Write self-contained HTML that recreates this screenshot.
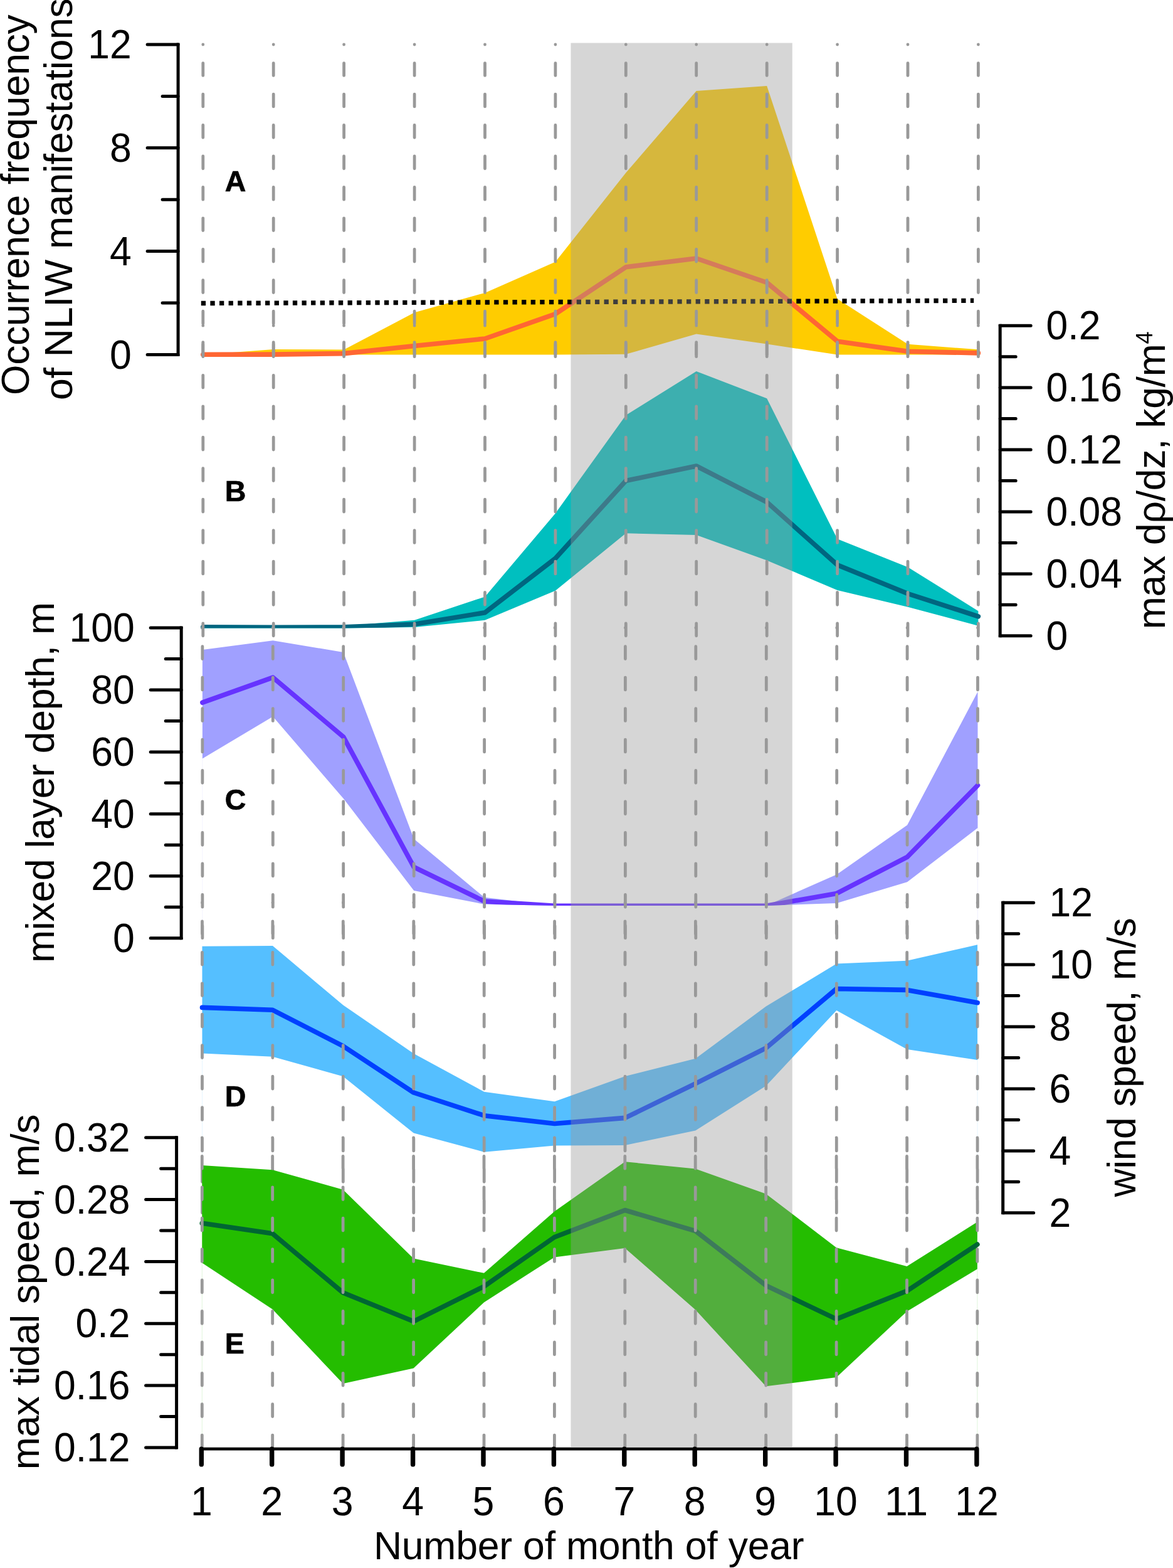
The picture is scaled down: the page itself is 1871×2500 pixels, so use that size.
<!DOCTYPE html>
<html lang="en"><head><meta charset="utf-8"><title>Seasonal variability</title>
<style>html,body{margin:0;padding:0;background:#fff}body{width:1871px;height:2500px;overflow:hidden}svg{display:block}text{font-family:'Liberation Sans', Arial, Helvetica, sans-serif;fill:#000}</style>
</head><body>
<svg width="1871" height="2500" viewBox="0 0 1871 2500">
<rect width="1871" height="2500" fill="#fff"/>
<defs>
<clipPath id="clipA"><path clip-rule="evenodd" d="M0,0H1871V2500H0Z M323.8,565.4 L436.2,565.4 L548.6,565.4 L661.1,565.4 L773.5,565.4 L885.9,565.4 L998.3,564.8 L1110.7,532.6 L1223.2,548.6 L1335.6,565.4 L1448.0,565.4 L1560.4,565.4 L1560.4,565.4 L323.8,565.4Z"/></clipPath>
<clipPath id="clipB"><path clip-rule="evenodd" d="M0,0H1871V2500H0Z M323.8,1001.5 L436.2,1001.5 L548.6,1001.5 L661.1,1000.0 L773.5,988.8 L885.9,941.7 L998.3,850.2 L1110.7,853.0 L1223.2,893.5 L1335.6,941.0 L1448.0,967.8 L1560.4,997.8 L1560.4,1013.8 L323.8,1013.8Z"/></clipPath>
<clipPath id="clipC"><path clip-rule="evenodd" d="M0,0H1871V2500H0Z M322.9,1209.6 L435.3,1142.6 L547.7,1273.1 L660.2,1420.0 L772.6,1441.7 L885.0,1444.0 L997.4,1444.0 L1109.8,1444.0 L1222.3,1444.0 L1334.7,1440.1 L1447.1,1406.3 L1559.5,1320.0 L1559.5,1495.7 L322.9,1495.7Z"/></clipPath>
<clipPath id="clipD"><path clip-rule="evenodd" d="M0,0H1871V2500H0Z M322.5,1679.5 L434.9,1684.8 L547.3,1716.2 L659.8,1806.6 L772.2,1836.7 L884.6,1826.6 L997.0,1825.9 L1109.4,1802.5 L1221.9,1731.2 L1334.3,1611.0 L1446.7,1673.1 L1559.1,1690.0 L1559.1,1933.8 L322.5,1933.8Z"/></clipPath>
<clipPath id="clipE"><path clip-rule="evenodd" d="M0,0H1871V2500H0Z M322.3,2013.5 L434.7,2087.6 L547.1,2205.9 L659.6,2181.6 L772.0,2076.4 L884.4,2004.4 L996.8,1989.9 L1109.2,2088.3 L1221.7,2210.3 L1334.1,2196.0 L1446.5,2090.9 L1558.9,2023.3 L1558.9,2307.9 L322.3,2307.9Z"/></clipPath>
</defs>
<g id="panelA">
<polygon fill="#ffcc00" points="323.8,565.4 436.2,557.0 548.6,557.5 661.1,498.3 773.5,466.9 885.9,417.5 998.3,275.6 1110.7,145.1 1223.2,136.9 1335.6,476.6 1448.0,548.8 1560.4,557.2 1560.4,565.4 1448.0,565.4 1335.6,565.4 1223.2,548.6 1110.7,532.6 998.3,564.8 885.9,565.4 773.5,565.4 661.1,565.4 548.6,565.4 436.2,565.4 323.8,565.4"/>
<g clip-path="url(#clipA)"><polyline fill="none" stroke="#ff6633" stroke-width="7.6" stroke-linecap="round" stroke-linejoin="round" points="323.8,565.3 436.2,565.1 548.6,563.6 661.1,551.5 773.5,540.0 885.9,500.5 998.3,425.8 1110.7,412.0 1223.2,450.5 1335.6,544.2 1448.0,560.3 1560.4,562.9"/></g>
<path stroke="#999999" stroke-width="4.8" stroke-linecap="round" fill="none" d="M323.8,71.0v0.01M323.8,545.6V565.4M323.8,496.2V516.0M323.8,446.7V466.5M323.8,397.3V417.1M323.8,347.8V367.6M323.8,298.4V318.2M323.8,249.0V268.8M323.8,199.5V219.3M323.8,150.1V169.9M323.8,100.6V120.4M436.2,71.0v0.01M436.2,545.6V565.4M436.2,496.2V516.0M436.2,446.7V466.5M436.2,397.3V417.1M436.2,347.8V367.6M436.2,298.4V318.2M436.2,249.0V268.8M436.2,199.5V219.3M436.2,150.1V169.9M436.2,100.6V120.4M548.6,71.0v0.01M548.6,545.6V565.4M548.6,496.2V516.0M548.6,446.7V466.5M548.6,397.3V417.1M548.6,347.8V367.6M548.6,298.4V318.2M548.6,249.0V268.8M548.6,199.5V219.3M548.6,150.1V169.9M548.6,100.6V120.4M661.1,71.0v0.01M661.1,545.6V565.4M661.1,496.2V516.0M661.1,446.7V466.5M661.1,397.3V417.1M661.1,347.8V367.6M661.1,298.4V318.2M661.1,249.0V268.8M661.1,199.5V219.3M661.1,150.1V169.9M661.1,100.6V120.4M773.5,71.0v0.01M773.5,545.6V565.4M773.5,496.2V516.0M773.5,446.7V466.5M773.5,397.3V417.1M773.5,347.8V367.6M773.5,298.4V318.2M773.5,249.0V268.8M773.5,199.5V219.3M773.5,150.1V169.9M773.5,100.6V120.4M885.9,71.0v0.01M885.9,545.6V565.4M885.9,496.2V516.0M885.9,446.7V466.5M885.9,397.3V417.1M885.9,347.8V367.6M885.9,298.4V318.2M885.9,249.0V268.8M885.9,199.5V219.3M885.9,150.1V169.9M885.9,100.6V120.4M998.3,71.0v0.01M998.3,545.6V565.4M998.3,496.2V516.0M998.3,446.7V466.5M998.3,397.3V417.1M998.3,347.8V367.6M998.3,298.4V318.2M998.3,249.0V268.8M998.3,199.5V219.3M998.3,150.1V169.9M998.3,100.6V120.4M1110.7,71.0v0.01M1110.7,545.6V565.4M1110.7,496.2V516.0M1110.7,446.7V466.5M1110.7,397.3V417.1M1110.7,347.8V367.6M1110.7,298.4V318.2M1110.7,249.0V268.8M1110.7,199.5V219.3M1110.7,150.1V169.9M1110.7,100.6V120.4M1223.2,71.0v0.01M1223.2,545.6V565.4M1223.2,496.2V516.0M1223.2,446.7V466.5M1223.2,397.3V417.1M1223.2,347.8V367.6M1223.2,298.4V318.2M1223.2,249.0V268.8M1223.2,199.5V219.3M1223.2,150.1V169.9M1223.2,100.6V120.4M1335.6,71.0v0.01M1335.6,545.6V565.4M1335.6,496.2V516.0M1335.6,446.7V466.5M1335.6,397.3V417.1M1335.6,347.8V367.6M1335.6,298.4V318.2M1335.6,249.0V268.8M1335.6,199.5V219.3M1335.6,150.1V169.9M1335.6,100.6V120.4M1448.0,71.0v0.01M1448.0,545.6V565.4M1448.0,496.2V516.0M1448.0,446.7V466.5M1448.0,397.3V417.1M1448.0,347.8V367.6M1448.0,298.4V318.2M1448.0,249.0V268.8M1448.0,199.5V219.3M1448.0,150.1V169.9M1448.0,100.6V120.4M1560.4,71.0v0.01M1560.4,545.6V565.4M1560.4,496.2V516.0M1560.4,446.7V466.5M1560.4,397.3V417.1M1560.4,347.8V367.6M1560.4,298.4V318.2M1560.4,249.0V268.8M1560.4,199.5V219.3M1560.4,150.1V169.9M1560.4,100.6V120.4"/>
</g>
<g id="panelB">
<polygon fill="#00bfbf" points="323.8,998.0 436.2,998.0 548.6,998.0 661.1,988.8 773.5,951.4 885.9,818.4 998.3,662.0 1110.7,592.0 1223.2,635.3 1335.6,859.3 1448.0,904.2 1560.4,974.3 1560.4,997.8 1448.0,967.8 1335.6,941.0 1223.2,893.5 1110.7,853.0 998.3,850.2 885.9,941.7 773.5,988.8 661.1,1000.0 548.6,1001.5 436.2,1001.5 323.8,1001.5"/>
<path d="M323.8,1001.5V1013.8M1560.4,997.8V1013.8" stroke="#00bfbf" stroke-width="1" stroke-opacity="0.14" fill="none"/>
<g clip-path="url(#clipB)"><polyline fill="none" stroke="#006680" stroke-width="7.6" stroke-linecap="round" stroke-linejoin="round" points="323.8,999.9 436.2,1000.2 548.6,999.9 661.1,995.2 773.5,976.7 885.9,890.2 998.3,766.5 1110.7,743.0 1223.2,800.5 1335.6,900.7 1448.0,946.5 1560.4,982.8"/></g>
<path stroke="#999999" stroke-width="4.8" stroke-linecap="round" fill="none" d="M323.8,519.2v0.01M323.8,994.0V1013.8M323.8,944.5V964.3M323.8,895.1V914.9M323.8,845.6V865.4M323.8,796.2V816.0M323.8,746.7V766.5M323.8,697.2V717.0M323.8,647.8V667.6M323.8,598.3V618.1M323.8,548.9V568.7M436.2,519.2v0.01M436.2,994.0V1013.8M436.2,944.5V964.3M436.2,895.1V914.9M436.2,845.6V865.4M436.2,796.2V816.0M436.2,746.7V766.5M436.2,697.2V717.0M436.2,647.8V667.6M436.2,598.3V618.1M436.2,548.9V568.7M548.6,519.2v0.01M548.6,994.0V1013.8M548.6,944.5V964.3M548.6,895.1V914.9M548.6,845.6V865.4M548.6,796.2V816.0M548.6,746.7V766.5M548.6,697.2V717.0M548.6,647.8V667.6M548.6,598.3V618.1M548.6,548.9V568.7M661.1,519.2v0.01M661.1,994.0V1013.8M661.1,944.5V964.3M661.1,895.1V914.9M661.1,845.6V865.4M661.1,796.2V816.0M661.1,746.7V766.5M661.1,697.2V717.0M661.1,647.8V667.6M661.1,598.3V618.1M661.1,548.9V568.7M773.5,519.2v0.01M773.5,994.0V1013.8M773.5,944.5V964.3M773.5,895.1V914.9M773.5,845.6V865.4M773.5,796.2V816.0M773.5,746.7V766.5M773.5,697.2V717.0M773.5,647.8V667.6M773.5,598.3V618.1M773.5,548.9V568.7M885.9,519.2v0.01M885.9,994.0V1013.8M885.9,944.5V964.3M885.9,895.1V914.9M885.9,845.6V865.4M885.9,796.2V816.0M885.9,746.7V766.5M885.9,697.2V717.0M885.9,647.8V667.6M885.9,598.3V618.1M885.9,548.9V568.7M998.3,519.2v0.01M998.3,994.0V1013.8M998.3,944.5V964.3M998.3,895.1V914.9M998.3,845.6V865.4M998.3,796.2V816.0M998.3,746.7V766.5M998.3,697.2V717.0M998.3,647.8V667.6M998.3,598.3V618.1M998.3,548.9V568.7M1110.7,519.2v0.01M1110.7,994.0V1013.8M1110.7,944.5V964.3M1110.7,895.1V914.9M1110.7,845.6V865.4M1110.7,796.2V816.0M1110.7,746.7V766.5M1110.7,697.2V717.0M1110.7,647.8V667.6M1110.7,598.3V618.1M1110.7,548.9V568.7M1223.2,519.2v0.01M1223.2,994.0V1013.8M1223.2,944.5V964.3M1223.2,895.1V914.9M1223.2,845.6V865.4M1223.2,796.2V816.0M1223.2,746.7V766.5M1223.2,697.2V717.0M1223.2,647.8V667.6M1223.2,598.3V618.1M1223.2,548.9V568.7M1335.6,519.2v0.01M1335.6,994.0V1013.8M1335.6,944.5V964.3M1335.6,895.1V914.9M1335.6,845.6V865.4M1335.6,796.2V816.0M1335.6,746.7V766.5M1335.6,697.2V717.0M1335.6,647.8V667.6M1335.6,598.3V618.1M1335.6,548.9V568.7M1448.0,519.2v0.01M1448.0,994.0V1013.8M1448.0,944.5V964.3M1448.0,895.1V914.9M1448.0,845.6V865.4M1448.0,796.2V816.0M1448.0,746.7V766.5M1448.0,697.2V717.0M1448.0,647.8V667.6M1448.0,598.3V618.1M1448.0,548.9V568.7M1560.4,519.2v0.01M1560.4,994.0V1013.8M1560.4,944.5V964.3M1560.4,895.1V914.9M1560.4,845.6V865.4M1560.4,796.2V816.0M1560.4,746.7V766.5M1560.4,697.2V717.0M1560.4,647.8V667.6M1560.4,598.3V618.1M1560.4,548.9V568.7"/>
</g>
<g id="panelC">
<polygon fill="#a0a0ff" points="322.9,1036.0 435.3,1021.3 547.7,1039.9 660.2,1337.5 772.6,1430.8 885.0,1444.0 997.4,1444.0 1109.8,1444.0 1222.3,1444.0 1334.7,1394.2 1447.1,1315.6 1559.5,1103.0 1559.5,1320.0 1447.1,1406.3 1334.7,1440.1 1222.3,1444.0 1109.8,1444.0 997.4,1444.0 885.0,1444.0 772.6,1441.7 660.2,1420.0 547.7,1273.1 435.3,1142.6 322.9,1209.6"/>
<path d="M322.9,1209.6V1495.7M1559.5,1320.0V1495.7" stroke="#a0a0ff" stroke-width="1" stroke-opacity="0.14" fill="none"/>
<g clip-path="url(#clipC)"><polyline fill="none" stroke="#6633ff" stroke-width="7.6" stroke-linecap="round" stroke-linejoin="round" points="322.9,1120.2 435.3,1080.2 547.7,1174.8 660.2,1382.5 772.6,1437.0 885.0,1444.2 997.4,1444.2 1109.8,1444.2 1222.3,1444.2 1334.7,1424.4 1447.1,1366.4 1559.5,1252.1"/></g>
<path stroke="#999999" stroke-width="4.8" stroke-linecap="round" fill="none" d="M322.9,1001.0v0.01M322.9,1475.9V1495.7M322.9,1426.4V1446.2M322.9,1377.0V1396.8M322.9,1327.5V1347.3M322.9,1278.0V1297.8M322.9,1228.5V1248.3M322.9,1179.1V1198.9M322.9,1129.6V1149.4M322.9,1080.1V1099.9M322.9,1030.7V1050.5M435.3,1001.0v0.01M435.3,1475.9V1495.7M435.3,1426.4V1446.2M435.3,1377.0V1396.8M435.3,1327.5V1347.3M435.3,1278.0V1297.8M435.3,1228.5V1248.3M435.3,1179.1V1198.9M435.3,1129.6V1149.4M435.3,1080.1V1099.9M435.3,1030.7V1050.5M547.7,1001.0v0.01M547.7,1475.9V1495.7M547.7,1426.4V1446.2M547.7,1377.0V1396.8M547.7,1327.5V1347.3M547.7,1278.0V1297.8M547.7,1228.5V1248.3M547.7,1179.1V1198.9M547.7,1129.6V1149.4M547.7,1080.1V1099.9M547.7,1030.7V1050.5M660.2,1001.0v0.01M660.2,1475.9V1495.7M660.2,1426.4V1446.2M660.2,1377.0V1396.8M660.2,1327.5V1347.3M660.2,1278.0V1297.8M660.2,1228.5V1248.3M660.2,1179.1V1198.9M660.2,1129.6V1149.4M660.2,1080.1V1099.9M660.2,1030.7V1050.5M772.6,1001.0v0.01M772.6,1475.9V1495.7M772.6,1426.4V1446.2M772.6,1377.0V1396.8M772.6,1327.5V1347.3M772.6,1278.0V1297.8M772.6,1228.5V1248.3M772.6,1179.1V1198.9M772.6,1129.6V1149.4M772.6,1080.1V1099.9M772.6,1030.7V1050.5M885.0,1001.0v0.01M885.0,1475.9V1495.7M885.0,1426.4V1446.2M885.0,1377.0V1396.8M885.0,1327.5V1347.3M885.0,1278.0V1297.8M885.0,1228.5V1248.3M885.0,1179.1V1198.9M885.0,1129.6V1149.4M885.0,1080.1V1099.9M885.0,1030.7V1050.5M997.4,1001.0v0.01M997.4,1475.9V1495.7M997.4,1426.4V1446.2M997.4,1377.0V1396.8M997.4,1327.5V1347.3M997.4,1278.0V1297.8M997.4,1228.5V1248.3M997.4,1179.1V1198.9M997.4,1129.6V1149.4M997.4,1080.1V1099.9M997.4,1030.7V1050.5M1109.8,1001.0v0.01M1109.8,1475.9V1495.7M1109.8,1426.4V1446.2M1109.8,1377.0V1396.8M1109.8,1327.5V1347.3M1109.8,1278.0V1297.8M1109.8,1228.5V1248.3M1109.8,1179.1V1198.9M1109.8,1129.6V1149.4M1109.8,1080.1V1099.9M1109.8,1030.7V1050.5M1222.3,1001.0v0.01M1222.3,1475.9V1495.7M1222.3,1426.4V1446.2M1222.3,1377.0V1396.8M1222.3,1327.5V1347.3M1222.3,1278.0V1297.8M1222.3,1228.5V1248.3M1222.3,1179.1V1198.9M1222.3,1129.6V1149.4M1222.3,1080.1V1099.9M1222.3,1030.7V1050.5M1334.7,1001.0v0.01M1334.7,1475.9V1495.7M1334.7,1426.4V1446.2M1334.7,1377.0V1396.8M1334.7,1327.5V1347.3M1334.7,1278.0V1297.8M1334.7,1228.5V1248.3M1334.7,1179.1V1198.9M1334.7,1129.6V1149.4M1334.7,1080.1V1099.9M1334.7,1030.7V1050.5M1447.1,1001.0v0.01M1447.1,1475.9V1495.7M1447.1,1426.4V1446.2M1447.1,1377.0V1396.8M1447.1,1327.5V1347.3M1447.1,1278.0V1297.8M1447.1,1228.5V1248.3M1447.1,1179.1V1198.9M1447.1,1129.6V1149.4M1447.1,1080.1V1099.9M1447.1,1030.7V1050.5M1559.5,1001.0v0.01M1559.5,1475.9V1495.7M1559.5,1426.4V1446.2M1559.5,1377.0V1396.8M1559.5,1327.5V1347.3M1559.5,1278.0V1297.8M1559.5,1228.5V1248.3M1559.5,1179.1V1198.9M1559.5,1129.6V1149.4M1559.5,1080.1V1099.9M1559.5,1030.7V1050.5"/>
</g>
<g id="panelD">
<polygon fill="#55bfff" points="322.5,1508.7 434.9,1507.9 547.3,1602.6 659.8,1679.7 772.2,1740.8 884.6,1756.3 997.0,1715.9 1109.4,1687.7 1221.9,1604.4 1334.3,1536.6 1446.7,1531.7 1559.1,1506.3 1559.1,1690.0 1446.7,1673.1 1334.3,1611.0 1221.9,1731.2 1109.4,1802.5 997.0,1825.9 884.6,1826.6 772.2,1836.7 659.8,1806.6 547.3,1716.2 434.9,1684.8 322.5,1679.5"/>
<path d="M322.5,1679.5V1933.8M1559.1,1690.0V1933.8" stroke="#55bfff" stroke-width="1" stroke-opacity="0.14" fill="none"/>
<g clip-path="url(#clipD)"><polyline fill="none" stroke="#0040ff" stroke-width="7.6" stroke-linecap="round" stroke-linejoin="round" points="322.5,1606.4 434.9,1610.3 547.3,1667.9 659.8,1742.0 772.2,1778.7 884.6,1791.5 997.0,1782.4 1109.4,1727.6 1221.9,1670.8 1334.3,1576.5 1446.7,1578.4 1559.1,1598.7"/></g>
<path stroke="#999999" stroke-width="4.8" stroke-linecap="round" fill="none" d="M322.5,1439.2v0.01M322.5,1914.0V1933.8M322.5,1864.5V1884.3M322.5,1815.1V1834.9M322.5,1765.6V1785.4M322.5,1716.2V1736.0M322.5,1666.7V1686.5M322.5,1617.2V1637.0M322.5,1567.8V1587.6M322.5,1518.3V1538.1M322.5,1468.9V1488.7M434.9,1439.2v0.01M434.9,1914.0V1933.8M434.9,1864.5V1884.3M434.9,1815.1V1834.9M434.9,1765.6V1785.4M434.9,1716.2V1736.0M434.9,1666.7V1686.5M434.9,1617.2V1637.0M434.9,1567.8V1587.6M434.9,1518.3V1538.1M434.9,1468.9V1488.7M547.3,1439.2v0.01M547.3,1914.0V1933.8M547.3,1864.5V1884.3M547.3,1815.1V1834.9M547.3,1765.6V1785.4M547.3,1716.2V1736.0M547.3,1666.7V1686.5M547.3,1617.2V1637.0M547.3,1567.8V1587.6M547.3,1518.3V1538.1M547.3,1468.9V1488.7M659.8,1439.2v0.01M659.8,1914.0V1933.8M659.8,1864.5V1884.3M659.8,1815.1V1834.9M659.8,1765.6V1785.4M659.8,1716.2V1736.0M659.8,1666.7V1686.5M659.8,1617.2V1637.0M659.8,1567.8V1587.6M659.8,1518.3V1538.1M659.8,1468.9V1488.7M772.2,1439.2v0.01M772.2,1914.0V1933.8M772.2,1864.5V1884.3M772.2,1815.1V1834.9M772.2,1765.6V1785.4M772.2,1716.2V1736.0M772.2,1666.7V1686.5M772.2,1617.2V1637.0M772.2,1567.8V1587.6M772.2,1518.3V1538.1M772.2,1468.9V1488.7M884.6,1439.2v0.01M884.6,1914.0V1933.8M884.6,1864.5V1884.3M884.6,1815.1V1834.9M884.6,1765.6V1785.4M884.6,1716.2V1736.0M884.6,1666.7V1686.5M884.6,1617.2V1637.0M884.6,1567.8V1587.6M884.6,1518.3V1538.1M884.6,1468.9V1488.7M997.0,1439.2v0.01M997.0,1914.0V1933.8M997.0,1864.5V1884.3M997.0,1815.1V1834.9M997.0,1765.6V1785.4M997.0,1716.2V1736.0M997.0,1666.7V1686.5M997.0,1617.2V1637.0M997.0,1567.8V1587.6M997.0,1518.3V1538.1M997.0,1468.9V1488.7M1109.4,1439.2v0.01M1109.4,1914.0V1933.8M1109.4,1864.5V1884.3M1109.4,1815.1V1834.9M1109.4,1765.6V1785.4M1109.4,1716.2V1736.0M1109.4,1666.7V1686.5M1109.4,1617.2V1637.0M1109.4,1567.8V1587.6M1109.4,1518.3V1538.1M1109.4,1468.9V1488.7M1221.9,1439.2v0.01M1221.9,1914.0V1933.8M1221.9,1864.5V1884.3M1221.9,1815.1V1834.9M1221.9,1765.6V1785.4M1221.9,1716.2V1736.0M1221.9,1666.7V1686.5M1221.9,1617.2V1637.0M1221.9,1567.8V1587.6M1221.9,1518.3V1538.1M1221.9,1468.9V1488.7M1334.3,1439.2v0.01M1334.3,1914.0V1933.8M1334.3,1864.5V1884.3M1334.3,1815.1V1834.9M1334.3,1765.6V1785.4M1334.3,1716.2V1736.0M1334.3,1666.7V1686.5M1334.3,1617.2V1637.0M1334.3,1567.8V1587.6M1334.3,1518.3V1538.1M1334.3,1468.9V1488.7M1446.7,1439.2v0.01M1446.7,1914.0V1933.8M1446.7,1864.5V1884.3M1446.7,1815.1V1834.9M1446.7,1765.6V1785.4M1446.7,1716.2V1736.0M1446.7,1666.7V1686.5M1446.7,1617.2V1637.0M1446.7,1567.8V1587.6M1446.7,1518.3V1538.1M1446.7,1468.9V1488.7M1559.1,1439.2v0.01M1559.1,1914.0V1933.8M1559.1,1864.5V1884.3M1559.1,1815.1V1834.9M1559.1,1765.6V1785.4M1559.1,1716.2V1736.0M1559.1,1666.7V1686.5M1559.1,1617.2V1637.0M1559.1,1567.8V1587.6M1559.1,1518.3V1538.1M1559.1,1468.9V1488.7"/>
</g>
<g id="panelE">
<polygon fill="#24bd00" points="322.3,1858.0 434.7,1865.3 547.1,1896.7 659.6,2006.4 772.0,2029.8 884.4,1931.4 996.8,1852.2 1109.2,1863.5 1221.7,1903.4 1334.1,1989.3 1446.5,2018.9 1558.9,1948.3 1558.9,2023.3 1446.5,2090.9 1334.1,2196.0 1221.7,2210.3 1109.2,2088.3 996.8,1989.9 884.4,2004.4 772.0,2076.4 659.6,2181.6 547.1,2205.9 434.7,2087.6 322.3,2013.5"/>
<path d="M322.3,2013.5V2307.9M1558.9,2023.3V2307.9" stroke="#24bd00" stroke-width="1" stroke-opacity="0.14" fill="none"/>
<g clip-path="url(#clipE)"><polyline fill="none" stroke="#006633" stroke-width="7.6" stroke-linecap="round" stroke-linejoin="round" points="322.3,1950.3 434.7,1966.8 547.1,2061.0 659.6,2106.8 772.0,2051.1 884.4,1972.5 996.8,1929.5 1109.2,1962.6 1221.7,2049.6 1334.1,2103.1 1446.5,2058.3 1558.9,1984.1"/></g>
<path stroke="#999999" stroke-width="4.8" stroke-linecap="round" fill="none" d="M322.3,1813.8v0.01M322.3,2288.1V2307.9M322.3,2238.7V2258.5M322.3,2189.3V2209.1M322.3,2139.9V2159.7M322.3,2090.5V2110.3M322.3,2041.0V2060.8M322.3,1991.6V2011.4M322.3,1942.2V1962.0M322.3,1892.8V1912.6M322.3,1843.4V1863.2M434.7,1813.8v0.01M434.7,2288.1V2307.9M434.7,2238.7V2258.5M434.7,2189.3V2209.1M434.7,2139.9V2159.7M434.7,2090.5V2110.3M434.7,2041.0V2060.8M434.7,1991.6V2011.4M434.7,1942.2V1962.0M434.7,1892.8V1912.6M434.7,1843.4V1863.2M547.1,1813.8v0.01M547.1,2288.1V2307.9M547.1,2238.7V2258.5M547.1,2189.3V2209.1M547.1,2139.9V2159.7M547.1,2090.5V2110.3M547.1,2041.0V2060.8M547.1,1991.6V2011.4M547.1,1942.2V1962.0M547.1,1892.8V1912.6M547.1,1843.4V1863.2M659.6,1813.8v0.01M659.6,2288.1V2307.9M659.6,2238.7V2258.5M659.6,2189.3V2209.1M659.6,2139.9V2159.7M659.6,2090.5V2110.3M659.6,2041.0V2060.8M659.6,1991.6V2011.4M659.6,1942.2V1962.0M659.6,1892.8V1912.6M659.6,1843.4V1863.2M772.0,1813.8v0.01M772.0,2288.1V2307.9M772.0,2238.7V2258.5M772.0,2189.3V2209.1M772.0,2139.9V2159.7M772.0,2090.5V2110.3M772.0,2041.0V2060.8M772.0,1991.6V2011.4M772.0,1942.2V1962.0M772.0,1892.8V1912.6M772.0,1843.4V1863.2M884.4,1813.8v0.01M884.4,2288.1V2307.9M884.4,2238.7V2258.5M884.4,2189.3V2209.1M884.4,2139.9V2159.7M884.4,2090.5V2110.3M884.4,2041.0V2060.8M884.4,1991.6V2011.4M884.4,1942.2V1962.0M884.4,1892.8V1912.6M884.4,1843.4V1863.2M996.8,1813.8v0.01M996.8,2288.1V2307.9M996.8,2238.7V2258.5M996.8,2189.3V2209.1M996.8,2139.9V2159.7M996.8,2090.5V2110.3M996.8,2041.0V2060.8M996.8,1991.6V2011.4M996.8,1942.2V1962.0M996.8,1892.8V1912.6M996.8,1843.4V1863.2M1109.2,1813.8v0.01M1109.2,2288.1V2307.9M1109.2,2238.7V2258.5M1109.2,2189.3V2209.1M1109.2,2139.9V2159.7M1109.2,2090.5V2110.3M1109.2,2041.0V2060.8M1109.2,1991.6V2011.4M1109.2,1942.2V1962.0M1109.2,1892.8V1912.6M1109.2,1843.4V1863.2M1221.7,1813.8v0.01M1221.7,2288.1V2307.9M1221.7,2238.7V2258.5M1221.7,2189.3V2209.1M1221.7,2139.9V2159.7M1221.7,2090.5V2110.3M1221.7,2041.0V2060.8M1221.7,1991.6V2011.4M1221.7,1942.2V1962.0M1221.7,1892.8V1912.6M1221.7,1843.4V1863.2M1334.1,1813.8v0.01M1334.1,2288.1V2307.9M1334.1,2238.7V2258.5M1334.1,2189.3V2209.1M1334.1,2139.9V2159.7M1334.1,2090.5V2110.3M1334.1,2041.0V2060.8M1334.1,1991.6V2011.4M1334.1,1942.2V1962.0M1334.1,1892.8V1912.6M1334.1,1843.4V1863.2M1446.5,1813.8v0.01M1446.5,2288.1V2307.9M1446.5,2238.7V2258.5M1446.5,2189.3V2209.1M1446.5,2139.9V2159.7M1446.5,2090.5V2110.3M1446.5,2041.0V2060.8M1446.5,1991.6V2011.4M1446.5,1942.2V1962.0M1446.5,1892.8V1912.6M1446.5,1843.4V1863.2M1558.9,1813.8v0.01M1558.9,2288.1V2307.9M1558.9,2238.7V2258.5M1558.9,2189.3V2209.1M1558.9,2139.9V2159.7M1558.9,2090.5V2110.3M1558.9,2041.0V2060.8M1558.9,1991.6V2011.4M1558.9,1942.2V1962.0M1558.9,1892.8V1912.6M1558.9,1843.4V1863.2"/>
</g>
<line x1="320.8" y1="483.5" x2="1553.2" y2="479.3" stroke="#000" stroke-width="7.4" stroke-dasharray="7.3 7.308"/>
<rect x="910.5" y="68.5" width="353.3" height="2238.5" fill="#999999" fill-opacity="0.4"/>
<g stroke="#000" stroke-width="5.0" fill="none" stroke-linecap="round">
<path stroke-linecap="butt" d="M284.1,68.50V567.90"/>
<path d="M284.1,71.00h-49.0M284.1,153.40h-25.0M284.1,235.80h-49.0M284.1,318.20h-25.0M284.1,400.60h-49.0M284.1,483.00h-25.0M284.1,565.40h-49.0"/>
</g>
<g font-size="64.6" text-anchor="end" lengthAdjust="spacingAndGlyphs">
<text x="209.8" y="93.1" textLength="69.5" lengthAdjust="spacingAndGlyphs">12</text>
<text x="209.8" y="257.9" textLength="34.8" lengthAdjust="spacingAndGlyphs">8</text>
<text x="209.8" y="422.7" textLength="34.8" lengthAdjust="spacingAndGlyphs">4</text>
<text x="209.8" y="587.5" textLength="34.8" lengthAdjust="spacingAndGlyphs">0</text>
</g>
<g stroke="#000" stroke-width="5.0" fill="none" stroke-linecap="round">
<path stroke-linecap="butt" d="M1595.2,516.70V1016.30"/>
<path d="M1595.2,519.20h49.0M1595.2,568.66h25.0M1595.2,618.12h49.0M1595.2,667.58h25.0M1595.2,717.04h49.0M1595.2,766.50h25.0M1595.2,815.96h49.0M1595.2,865.42h25.0M1595.2,914.88h49.0M1595.2,964.34h25.0M1595.2,1013.80h49.0"/>
</g>
<g font-size="64.6" text-anchor="start" lengthAdjust="spacingAndGlyphs">
<text x="1668.5" y="541.3" textLength="86.9" lengthAdjust="spacingAndGlyphs">0.2</text>
<text x="1668.5" y="640.2" textLength="121.6" lengthAdjust="spacingAndGlyphs">0.16</text>
<text x="1668.5" y="739.1" textLength="121.6" lengthAdjust="spacingAndGlyphs">0.12</text>
<text x="1668.5" y="838.1" textLength="121.6" lengthAdjust="spacingAndGlyphs">0.08</text>
<text x="1668.5" y="937.0" textLength="121.6" lengthAdjust="spacingAndGlyphs">0.04</text>
<text x="1668.5" y="1035.9" textLength="34.8" lengthAdjust="spacingAndGlyphs">0</text>
</g>
<g stroke="#000" stroke-width="5.0" fill="none" stroke-linecap="round">
<path stroke-linecap="butt" d="M289.2,998.50V1498.20"/>
<path d="M289.2,1001.00h-49.0M289.2,1050.47h-25.0M289.2,1099.94h-49.0M289.2,1149.41h-25.0M289.2,1198.88h-49.0M289.2,1248.35h-25.0M289.2,1297.82h-49.0M289.2,1347.29h-25.0M289.2,1396.76h-49.0M289.2,1446.23h-25.0M289.2,1495.70h-49.0"/>
</g>
<g font-size="64.6" text-anchor="end" lengthAdjust="spacingAndGlyphs">
<text x="214.8" y="1023.1" textLength="104.3" lengthAdjust="spacingAndGlyphs">100</text>
<text x="214.8" y="1122.0" textLength="69.5" lengthAdjust="spacingAndGlyphs">80</text>
<text x="214.8" y="1221.0" textLength="69.5" lengthAdjust="spacingAndGlyphs">60</text>
<text x="214.8" y="1319.9" textLength="69.5" lengthAdjust="spacingAndGlyphs">40</text>
<text x="214.8" y="1418.9" textLength="69.5" lengthAdjust="spacingAndGlyphs">20</text>
<text x="214.8" y="1517.8" textLength="34.8" lengthAdjust="spacingAndGlyphs">0</text>
</g>
<g stroke="#000" stroke-width="5.0" fill="none" stroke-linecap="round">
<path stroke-linecap="butt" d="M1599.7,1436.70V1936.30"/>
<path d="M1599.7,1439.20h49.0M1599.7,1488.66h25.0M1599.7,1538.12h49.0M1599.7,1587.58h25.0M1599.7,1637.04h49.0M1599.7,1686.50h25.0M1599.7,1735.96h49.0M1599.7,1785.42h25.0M1599.7,1834.88h49.0M1599.7,1884.34h25.0M1599.7,1933.80h49.0"/>
</g>
<g font-size="64.6" text-anchor="start" lengthAdjust="spacingAndGlyphs">
<text x="1673.4" y="1461.3" textLength="69.5" lengthAdjust="spacingAndGlyphs">12</text>
<text x="1673.4" y="1560.2" textLength="69.5" lengthAdjust="spacingAndGlyphs">10</text>
<text x="1673.4" y="1659.1" textLength="34.8" lengthAdjust="spacingAndGlyphs">8</text>
<text x="1673.4" y="1758.1" textLength="34.8" lengthAdjust="spacingAndGlyphs">6</text>
<text x="1673.4" y="1857.0" textLength="34.8" lengthAdjust="spacingAndGlyphs">4</text>
<text x="1673.4" y="1955.9" textLength="34.8" lengthAdjust="spacingAndGlyphs">2</text>
</g>
<g stroke="#000" stroke-width="5.0" fill="none" stroke-linecap="round">
<path stroke-linecap="butt" d="M281.6,1811.30V2310.40"/>
<path d="M281.6,1813.80h-49.0M281.6,1863.21h-25.0M281.6,1912.62h-49.0M281.6,1962.03h-25.0M281.6,2011.44h-49.0M281.6,2060.85h-25.0M281.6,2110.26h-49.0M281.6,2159.67h-25.0M281.6,2209.08h-49.0M281.6,2258.49h-25.0M281.6,2307.90h-49.0"/>
</g>
<g font-size="64.6" text-anchor="end" lengthAdjust="spacingAndGlyphs">
<text x="207.5" y="1835.9" textLength="121.6" lengthAdjust="spacingAndGlyphs">0.32</text>
<text x="207.5" y="1934.7" textLength="121.6" lengthAdjust="spacingAndGlyphs">0.28</text>
<text x="207.5" y="2033.5" textLength="121.6" lengthAdjust="spacingAndGlyphs">0.24</text>
<text x="207.5" y="2132.4" textLength="86.9" lengthAdjust="spacingAndGlyphs">0.2</text>
<text x="207.5" y="2231.2" textLength="121.6" lengthAdjust="spacingAndGlyphs">0.16</text>
<text x="207.5" y="2330.0" textLength="121.6" lengthAdjust="spacingAndGlyphs">0.12</text>
</g>
<g stroke="#000" fill="none">
<path stroke-width="4.8" d="M321.3,2310.1H1557.9"/>
<path stroke-width="7.4" stroke-linecap="round" d="M321.3,2310.1V2334.9M433.7,2310.1V2334.9M546.1,2310.1V2334.9M658.6,2310.1V2334.9M771.0,2310.1V2334.9M883.4,2310.1V2334.9M995.8,2310.1V2334.9M1108.2,2310.1V2334.9M1220.7,2310.1V2334.9M1333.1,2310.1V2334.9M1445.5,2310.1V2334.9M1557.9,2310.1V2334.9"/>
</g>
<g font-size="64.6" text-anchor="middle">
<text x="321.3" y="2416.0" textLength="34.8" lengthAdjust="spacingAndGlyphs">1</text>
<text x="433.7" y="2416.0" textLength="34.8" lengthAdjust="spacingAndGlyphs">2</text>
<text x="546.1" y="2416.0" textLength="34.8" lengthAdjust="spacingAndGlyphs">3</text>
<text x="658.6" y="2416.0" textLength="34.8" lengthAdjust="spacingAndGlyphs">4</text>
<text x="771.0" y="2416.0" textLength="34.8" lengthAdjust="spacingAndGlyphs">5</text>
<text x="883.4" y="2416.0" textLength="34.8" lengthAdjust="spacingAndGlyphs">6</text>
<text x="995.8" y="2416.0" textLength="34.8" lengthAdjust="spacingAndGlyphs">7</text>
<text x="1108.2" y="2416.0" textLength="34.8" lengthAdjust="spacingAndGlyphs">8</text>
<text x="1220.7" y="2416.0" textLength="34.8" lengthAdjust="spacingAndGlyphs">9</text>
<text x="1333.1" y="2416.0" textLength="69.5" lengthAdjust="spacingAndGlyphs">10</text>
<text x="1445.5" y="2416.0" textLength="69.5" lengthAdjust="spacingAndGlyphs">11</text>
<text x="1557.9" y="2416.0" textLength="69.5" lengthAdjust="spacingAndGlyphs">12</text>
</g>
<text x="595.9" y="2486" font-size="62.5" textLength="686.7" lengthAdjust="spacing">Number of month of year</text>
<text transform="translate(46.4,629.9) rotate(-90)" font-size="62.5" textLength="606.6" lengthAdjust="spacing">Occurrence frequency</text>
<text transform="translate(115.2,637.9) rotate(-90)" font-size="62.5" textLength="640.6" lengthAdjust="spacing">of NLIW manifestations</text>
<text transform="translate(1857.7,1003.3) rotate(-90)" font-size="62.5" textLength="474.8" lengthAdjust="spacing">max dρ/dz, kg/m<tspan font-size="36" dy="-19.3">4</tspan></text>
<text transform="translate(85.8,1535.0) rotate(-90)" font-size="62.5" textLength="575.1" lengthAdjust="spacing">mixed layer depth, m</text>
<text transform="translate(1811.3,1908.4) rotate(-90)" font-size="62.5" textLength="445.2" lengthAdjust="spacing">wind speed, m/s</text>
<text transform="translate(61.6,2343.3) rotate(-90)" font-size="62.5" textLength="566.8" lengthAdjust="spacing">max tidal speed, m/s</text>
<g font-size="46.6" font-weight="bold" stroke="#000" stroke-width="0.7" stroke-linejoin="miter">
<text x="358.7" y="305.3">A</text>
<text x="358.7" y="798.7">B</text>
<text x="358.7" y="1290.8">C</text>
<text x="358.7" y="1763.6">D</text>
<text x="358.7" y="2157.8">E</text>
</g>
</svg>
</body></html>
